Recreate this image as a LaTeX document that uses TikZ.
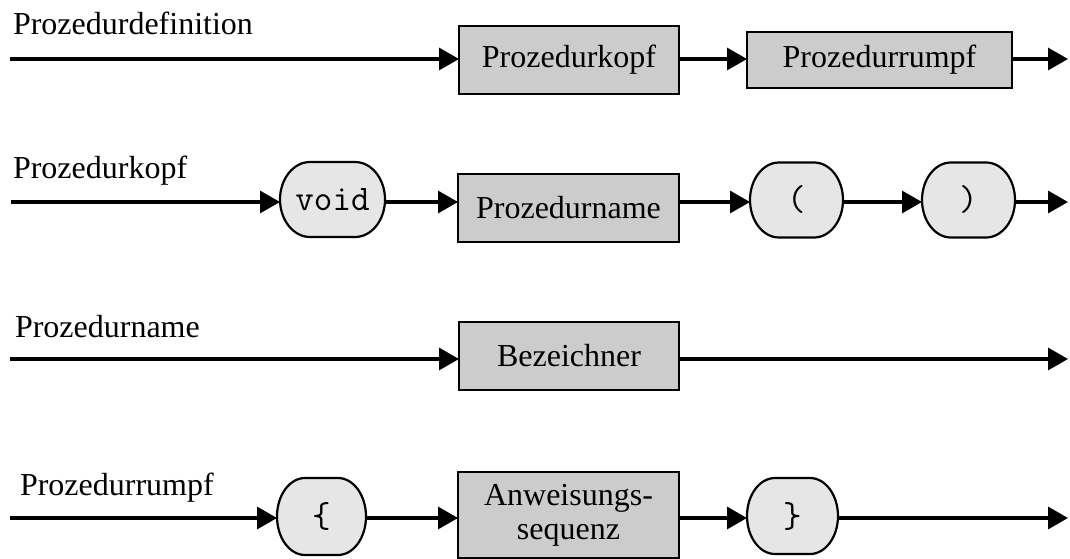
\documentclass[tikz,border=0pt]{standalone}
\usepackage{fontspec}
\setmainfont[Ligatures=NoCommon]{Liberation Serif}
\usetikzlibrary{arrows.meta}
\pgfdeclarelayer{background}
\pgfsetlayers{background,main}
\definecolor{boxgray}{HTML}{CCCCCC}
\definecolor{ovalgray}{HTML}{E6E6E6}
% Outline of a terminal symbol: rectangle with elliptic corners (#2 wide, #3 high)
\newcommand\termoutline[3]{%
  \begin{pgfonlayer}{background}
  \filldraw[term frame]
   ([xshift=#2]#1.north west) -- ([xshift=-#2]#1.north east)
   .. controls ([xshift=-0.448*#2]#1.north east) and ([yshift=0.552*#3]#1.east) .. (#1.east)
   .. controls ([yshift=-0.552*#3]#1.east) and ([xshift=-0.448*#2]#1.south east) .. ([xshift=-#2]#1.south east)
   -- ([xshift=#2]#1.south west)
   .. controls ([xshift=0.448*#2]#1.south west) and ([yshift=-0.552*#3]#1.west) .. (#1.west)
   .. controls ([yshift=0.552*#3]#1.west) and ([xshift=0.448*#2]#1.north west) .. cycle;
  \end{pgfonlayer}}
\begin{document}
\begin{tikzpicture}[x=1pt,y=-1pt,
  every node/.style={inner sep=0pt,outer sep=0pt},
  label text/.style={anchor=base west,font=\fontsize{32}{34}\selectfont},
  nonterm/.style={draw=black,line width=2.2pt,fill=boxgray,
    font=\fontsize{32}{34}\selectfont,align=center},
  term/.style={font=\fontsize{36}{38}\selectfont\ttfamily},
  term frame/.style={draw=black,line width=2.2pt,fill=ovalgray},
  flow/.style={line width=3.2pt,-{Triangle[length=20pt,width=22pt]}}]
\useasboundingbox (0,0) rectangle (1070,559);

% Prozedurdefinition
\node[label text] (l1) at (13,35) {Prozedurdefinition};
\node[nonterm,minimum width=220pt,minimum height=68pt] (kopf) at (569,60) {Prozedurkopf};
\node[nonterm,minimum width=265pt,minimum height=56pt] (rumpf) at (879.5,60) {Prozedurrumpf};
\coordinate (s1) at (10,59);
\coordinate (e1) at (1068,59);
\draw[flow] (s1) -- (kopf.west |- s1);
\draw[flow] (kopf.east |- s1) -- (rumpf.west |- s1);
\draw[flow] (rumpf.east |- s1) -- (e1);

% Prozedurkopf
\node[label text] (l2) at (13,178) {Prozedurkopf};
\node[term,minimum width=105pt,minimum height=75pt] (void) at (332.5,199.5) {void};
\termoutline{void}{30pt}{37.5pt}
\node[nonterm,minimum width=221pt,minimum height=68pt] (pname) at (568.5,208) {Prozedurname};
\node[term,minimum width=93pt,minimum height=75pt] (lpar) at (796.5,200) {(};
\termoutline{lpar}{29pt}{37.5pt}
\node[term,minimum width=93pt,minimum height=75pt] (rpar) at (968.5,200) {)};
\termoutline{rpar}{29pt}{37.5pt}
\coordinate (s2) at (11,202);
\coordinate (e2) at (1068,202);
\draw[flow] (s2) -- (void.west |- s2);
\draw[flow] (void.east |- s2) -- (pname.west |- s2);
\draw[flow] (pname.east |- s2) -- (lpar.west |- s2);
\draw[flow] (lpar.east |- s2) -- (rpar.west |- s2);
\draw[flow] (rpar.east |- s2) -- (e2);

% Prozedurname
\node[label text] (l3) at (15,337) {Prozedurname};
\node[nonterm,minimum width=220pt,minimum height=68pt] (bez) at (569,356) {Bezeichner};
\coordinate (s3) at (10,359);
\coordinate (e3) at (1068,359);
\draw[flow] (s3) -- (bez.west |- s3);
\draw[flow] (bez.east |- s3) -- (e3);

% Prozedurrumpf
\node[label text] (l4) at (20,495) {Prozedurrumpf};
\node[term,minimum width=89pt,minimum height=77pt] (lbr) at (321.5,516.5) {\{};
\termoutline{lbr}{28pt}{38.5pt}
\node[nonterm,minimum width=221pt,minimum height=86pt] (seq) at (568.5,515)
  {Anweisungs-\\sequenz};
\node[term,minimum width=91pt,minimum height=76pt] (rbr) at (792.5,516) {\}};
\termoutline{rbr}{28pt}{38pt}
\coordinate (s4) at (10,518);
\coordinate (e4) at (1068,518);
\draw[flow] (s4) -- (lbr.west |- s4);
\draw[flow] (lbr.east |- s4) -- (seq.west |- s4);
\draw[flow] (seq.east |- s4) -- (rbr.west |- s4);
\draw[flow] (rbr.east |- s4) -- (e4);
\end{tikzpicture}
\end{document}
